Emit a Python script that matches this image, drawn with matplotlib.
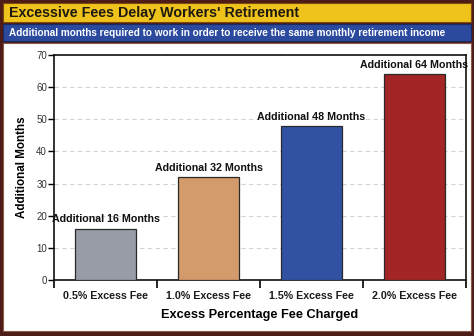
import matplotlib.pyplot as plt
from matplotlib.patches import Rectangle

plt.rcParams['font.family'] = ['Liberation Sans', 'DejaVu Sans']

fees = ['0.5% Excess Fee', '1.0% Excess Fee', '1.5% Excess Fee', '2.0% Excess Fee']
months = [16, 32, 48, 64]
colors = ['#979ca7', '#d39a6c', '#3151a3', '#a32525']

W, H = 474, 336
fig = plt.figure(figsize=(W / 100, H / 100), dpi=100)
fig.patch.set_facecolor('#4d1c16')


def box(x0, y0, x1, y1, **kw):
    # pixel box (top-left origin) -> figure rectangle, kept behind the axes
    r = Rectangle((x0 / W, 1 - y1 / H), (x1 - x0) / W, (y1 - y0) / H,
                  transform=fig.transFigure, zorder=-5, **kw)
    fig.patches.append(r)


# header bars and white panel
box(3, 3, 471, 22, facecolor='#efc31b', edgecolor='#7a4a10', lw=0.8)
box(3, 24, 471, 41, facecolor='#2b4a9e', edgecolor='#1a2a60', lw=0.8)
box(3, 43, 471, 331, facecolor='white', edgecolor='#8a5a4a', lw=0.8)

fig.text(9 / W, 1 - 13 / H, "Excessive Fees Delay Workers' Retirement",
         fontsize=10.3, fontweight='bold', color='#1e1a10', va='center')
fig.text(9 / W, 1 - 33 / H,
         'Additional months required to work in order to receive the same monthly retirement income',
         fontsize=7.2, fontweight='bold', color='white', va='center')

ax = fig.add_axes([54 / W, 1 - 280 / H, 412 / W, 225 / H])
ax.set_facecolor('white')
x = range(len(fees))
ax.bar(x, months, width=0.6, color=colors, edgecolor='#2a2a2a', linewidth=0.9, zorder=3)
for xi, m in zip(x, months):
    ax.annotate(f'Additional {m} Months', (xi, m), xytext=(0, 3), textcoords='offset points',
                ha='center', va='bottom', fontsize=7.7, fontweight='bold', color='#111111')

ax.set_xlim(-0.5, 3.5)
ax.set_ylim(0, 70)
ax.set_yticks(range(0, 71, 10))
ax.yaxis.grid(True, linestyle=(0, (4, 3)), color='#d4d4d4', linewidth=0.8, zorder=0)
ax.set_xticks(list(x))
ax.set_xticklabels(fees, fontsize=7.7, fontweight='bold', color='#1a1a1a')
ax.set_xticks([-0.5, 0.5, 1.5, 2.5, 3.5], minor=True)
ax.tick_params(axis='x', which='major', length=0, pad=8)
ax.tick_params(axis='x', which='minor', length=6, width=1.2, direction='out')
ax.tick_params(axis='y', length=4, width=1, labelsize=7, labelcolor='#333333', pad=1)
for s in ax.spines.values():
    s.set_linewidth(1.2)
    s.set_color('#111111')

ax.set_ylabel('Additional Months', fontsize=8.4, fontweight='bold', labelpad=6)
ax.set_xlabel('Excess Percentage Fee Charged', fontsize=9.2, fontweight='bold', labelpad=6)

fig.savefig('out.png', dpi=100, facecolor=fig.get_facecolor())
